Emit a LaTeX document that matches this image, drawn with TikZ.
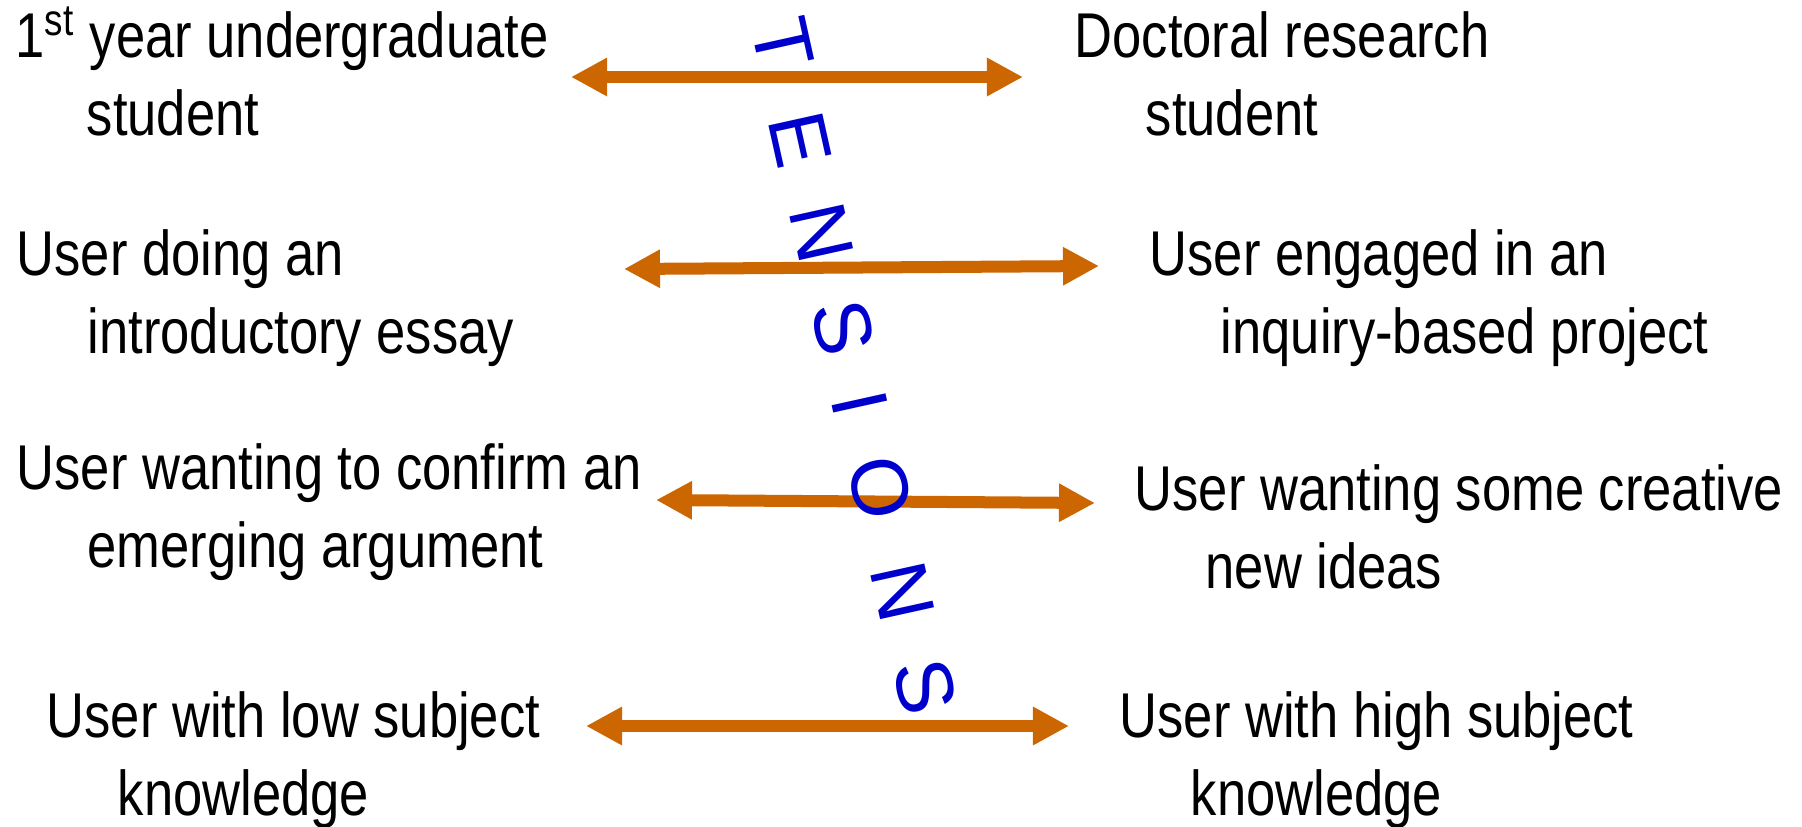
\documentclass[tikz,border=0pt]{standalone}
\usepackage{fontspec}
\setmainfont[FakeStretch=0.83]{Liberation Sans}
\newfontfamily\letterfont{Liberation Sans}
\usetikzlibrary{arrows.meta}
\definecolor{arroworange}{HTML}{CC6600}
\definecolor{tensionblue}{HTML}{0000CC}
\newcommand{\twolines}[2]{#1\\\hspace*{0.71cm}#2}
\tikzset{
  side text/.style={anchor=base west,align=left,inner sep=0pt,
    font=\fontsize{18pt}{21.9pt}\selectfont},
  pull/.style={draw=arroworange,line width=0.12cm,
    {Triangle[length=0.36cm,width=0.36cm]}-{Triangle[length=0.36cm,width=0.36cm]}},
  tension letter/.style={text=tensionblue,inner sep=0pt,rotate=-77.5,
    font=\letterfont\fontsize{22.8pt}{24pt}\selectfont}
}
\begin{document}
\begin{tikzpicture}[x=0.01cm,y=-0.01cm]
\useasboundingbox (0,0) rectangle (1802,827);
% left column (placed by the baseline of the second line)
\node[side text] (low1) at (15,135) {\twolines{1\textsuperscript{st} year undergraduate}{student}};
\node[side text] (low2) at (16,353) {\twolines{User doing an}{introductory essay}};
\node[side text] (low3) at (16,567) {\twolines{User wanting to confirm an}{emerging argument}};
\node[side text] (low4) at (46,815) {\twolines{User with low subject}{knowledge}};
% right column
\node[side text] (high1) at (1074,135) {\twolines{Doctoral research}{student}};
\node[side text] (high2) at (1149,353) {\twolines{User engaged in an}{inquiry-based project}};
\node[side text] (high3) at (1134,588) {\twolines{User wanting some creative}{new ideas}};
\node[side text] (high4) at (1119,815) {\twolines{User with high subject}{knowledge}};
% arrow ends
\coordinate (p1l) at (571,77);  \coordinate (p1r) at (1023,77);
\coordinate (p2l) at (624,269); \coordinate (p2r) at (1099,266);
\coordinate (p3l) at (656,500); \coordinate (p3r) at (1095,503);
\coordinate (p4l) at (586,726); \coordinate (p4r) at (1069,726);
\foreach \i in {1,...,4}
  \draw[pull] (p\i l) -- (p\i r);
% the word down the middle
\foreach \ch/\x/\y [count=\i] in {T/783/43,E/800/140,N/822/233,S/843/328,I/860/403,O/880/488,N/903/592,S/925/687}
  \node[tension letter] (ten\i) at (\x,\y) {\ch};
\end{tikzpicture}
\end{document}
